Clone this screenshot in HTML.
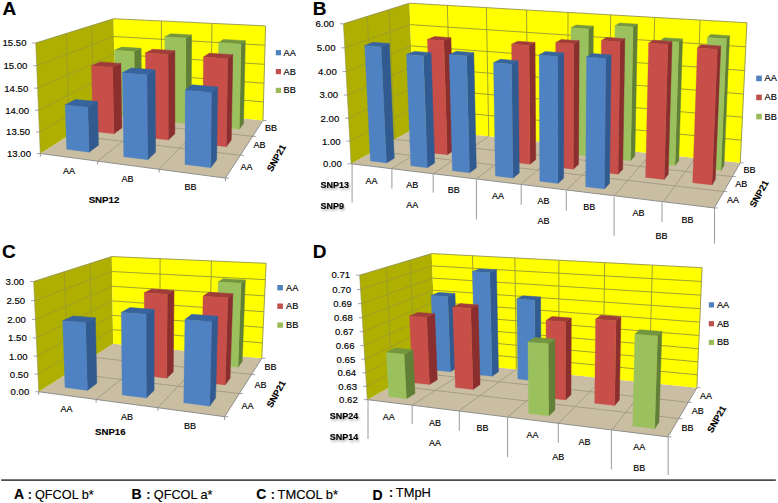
<!DOCTYPE html>
<html><head><meta charset="utf-8"><style>
html,body{margin:0;padding:0;background:#fff;}
svg{display:block;}
text{font-family:"Liberation Sans",sans-serif;fill:#000;stroke:#000;stroke-width:0.15px;}
</style></head><body>
<svg width="778" height="503" viewBox="0 0 778 503">
<defs><filter id="sh" x="-20%" y="-50%" width="140%" height="220%"><feGaussianBlur in="SourceAlpha" stdDeviation="1.0"/><feOffset dx="0.5" dy="1.8" result="b"/><feComponentTransfer><feFuncA type="linear" slope="0.3"/></feComponentTransfer><feMerge><feMergeNode/><feMergeNode in="SourceGraphic"/></feMerge></filter></defs>
<rect width="778" height="503" fill="#fff"/>
<polygon points="40.32,153.53 225.44,178.10 262.99,120.42 115.10,105.85" fill="#c9bea1" />
<polygon points="40.32,153.53 35.76,43.01 113.54,18.73 115.10,105.85" fill="#aeaf00" />
<polygon points="115.10,105.85 113.54,18.73 265.57,25.88 262.99,120.42" fill="#ffff00" />
<line x1="39.43" y1="132.02" x2="114.79" y2="88.78" stroke="#999933" stroke-width="0.8"/>
<line x1="114.79" y1="88.78" x2="263.49" y2="101.94" stroke="#999933" stroke-width="0.9"/>
<line x1="38.53" y1="110.21" x2="114.49" y2="71.54" stroke="#999933" stroke-width="0.8"/>
<line x1="114.49" y1="71.54" x2="264.00" y2="83.25" stroke="#999933" stroke-width="0.9"/>
<line x1="37.62" y1="88.11" x2="114.18" y2="54.12" stroke="#999933" stroke-width="0.8"/>
<line x1="114.18" y1="54.12" x2="264.52" y2="64.34" stroke="#999933" stroke-width="0.9"/>
<line x1="36.70" y1="65.71" x2="113.86" y2="36.52" stroke="#999933" stroke-width="0.8"/>
<line x1="113.86" y1="36.52" x2="265.04" y2="45.22" stroke="#999933" stroke-width="0.9"/>
<line x1="69.47" y1="134.94" x2="66.22" y2="33.50" stroke="#999933" stroke-width="0.8"/>
<line x1="69.47" y1="134.94" x2="240.30" y2="155.27" stroke="#9d9480" stroke-width="0.8"/>
<line x1="94.07" y1="119.26" x2="91.78" y2="25.52" stroke="#999933" stroke-width="0.8"/>
<line x1="94.07" y1="119.26" x2="252.61" y2="136.36" stroke="#9d9480" stroke-width="0.8"/>
<line x1="161.68" y1="110.44" x2="161.35" y2="20.97" stroke="#999933" stroke-width="0.9"/>
<line x1="97.64" y1="161.14" x2="161.68" y2="110.44" stroke="#9d9480" stroke-width="0.8"/>
<line x1="210.89" y1="115.29" x2="211.94" y2="23.35" stroke="#999933" stroke-width="0.9"/>
<line x1="159.19" y1="169.31" x2="210.89" y2="115.29" stroke="#9d9480" stroke-width="0.8"/>
<polyline points="35.76,43.01 113.54,18.73 265.57,25.88 262.99,120.42" fill="none" stroke="#94944a" stroke-width="0.9"/>
<polyline points="40.32,153.53 35.76,43.01" fill="none" stroke="#94944a" stroke-width="0.6"/>
<polygon points="134.91,118.28 134.12,51.60 141.07,48.34 141.70,113.27" fill="#617f36" stroke="#617f36" stroke-width="0.5" stroke-linejoin="round"/>
<polygon points="114.28,50.30 134.12,51.60 141.07,48.34 121.69,47.11" fill="#739540" stroke="#739540" stroke-width="0.5" stroke-linejoin="round"/>
<polygon points="115.45,116.24 134.91,118.28 134.12,51.60 114.28,50.30" fill="#9bc15f" stroke="#9bc15f" stroke-width="0.3" stroke-linejoin="round"/>
<polygon points="185.58,123.58 185.89,37.88 191.59,34.91 191.15,118.28" fill="#617f36" stroke="#617f36" stroke-width="0.5" stroke-linejoin="round"/>
<polygon points="164.73,36.70 185.89,37.88 191.59,34.91 170.96,33.79" fill="#739540" stroke="#739540" stroke-width="0.5" stroke-linejoin="round"/>
<polygon points="164.96,121.42 185.58,123.58 185.89,37.88 164.73,36.70" fill="#9bc15f" stroke="#9bc15f" stroke-width="0.3" stroke-linejoin="round"/>
<polygon points="239.35,129.21 241.06,43.89 245.30,40.65 243.53,123.59" fill="#617f36" stroke="#617f36" stroke-width="0.5" stroke-linejoin="round"/>
<polygon points="218.58,42.60 241.06,43.89 245.30,40.65 223.42,39.43" fill="#739540" stroke="#739540" stroke-width="0.5" stroke-linejoin="round"/>
<polygon points="217.45,126.92 239.35,129.21 241.06,43.89 218.58,42.60" fill="#9bc15f" stroke="#9bc15f" stroke-width="0.3" stroke-linejoin="round"/>
<polygon points="113.89,133.80 112.67,67.41 120.83,63.41 121.85,127.92" fill="#8a2e2e" stroke="#8a2e2e" stroke-width="0.5" stroke-linejoin="round"/>
<polygon points="91.44,65.80 112.67,67.41 120.83,63.41 100.13,61.89" fill="#a03d3b" stroke="#a03d3b" stroke-width="0.5" stroke-linejoin="round"/>
<polygon points="93.07,131.40 113.89,133.80 112.67,67.41 91.44,65.80" fill="#c84e4a" stroke="#c84e4a" stroke-width="0.3" stroke-linejoin="round"/>
<polygon points="168.29,140.07 168.14,54.40 174.88,50.66 174.85,133.81" fill="#8a2e2e" stroke="#8a2e2e" stroke-width="0.5" stroke-linejoin="round"/>
<polygon points="145.39,52.90 168.14,54.40 174.88,50.66 152.74,49.25" fill="#a03d3b" stroke="#a03d3b" stroke-width="0.5" stroke-linejoin="round"/>
<polygon points="146.11,137.51 168.29,140.07 168.14,54.40 145.39,52.90" fill="#c84e4a" stroke="#c84e4a" stroke-width="0.3" stroke-linejoin="round"/>
<polygon points="226.31,146.75 227.74,58.71 232.78,54.70 231.27,140.09" fill="#8a2e2e" stroke="#8a2e2e" stroke-width="0.5" stroke-linejoin="round"/>
<polygon points="203.42,57.10 227.74,58.71 232.78,54.70 209.17,53.20" fill="#a03d3b" stroke="#a03d3b" stroke-width="0.5" stroke-linejoin="round"/>
<polygon points="202.65,144.03 226.31,146.75 227.74,58.71 203.42,57.10" fill="#c84e4a" stroke="#c84e4a" stroke-width="0.3" stroke-linejoin="round"/>
<polygon points="88.99,152.18 87.81,107.19 97.45,101.56 98.46,145.19" fill="#305a90" stroke="#305a90" stroke-width="0.5" stroke-linejoin="round"/>
<polygon points="65.14,104.90 87.81,107.19 97.45,101.56 75.38,99.42" fill="#37639f" stroke="#37639f" stroke-width="0.5" stroke-linejoin="round"/>
<polygon points="66.61,149.32 88.99,152.18 87.81,107.19 65.14,104.90" fill="#4f82c3" stroke="#4f82c3" stroke-width="0.3" stroke-linejoin="round"/>
<polygon points="147.70,159.70 147.01,74.63 155.08,69.85 155.55,152.21" fill="#305a90" stroke="#305a90" stroke-width="0.5" stroke-linejoin="round"/>
<polygon points="122.42,72.70 147.01,74.63 155.08,69.85 131.21,68.05" fill="#37639f" stroke="#37639f" stroke-width="0.5" stroke-linejoin="round"/>
<polygon points="123.72,156.63 147.70,159.70 147.01,74.63 122.42,72.70" fill="#4f82c3" stroke="#4f82c3" stroke-width="0.3" stroke-linejoin="round"/>
<polygon points="210.71,167.76 211.57,92.46 217.64,86.90 216.67,159.74" fill="#305a90" stroke="#305a90" stroke-width="0.5" stroke-linejoin="round"/>
<polygon points="185.22,90.20 211.57,92.46 217.64,86.90 192.11,84.80" fill="#37639f" stroke="#37639f" stroke-width="0.5" stroke-linejoin="round"/>
<polygon points="184.96,164.47 210.71,167.76 211.57,92.46 185.22,90.20" fill="#4f82c3" stroke="#4f82c3" stroke-width="0.3" stroke-linejoin="round"/>
<line x1="36.82" y1="153.53" x2="40.32" y2="153.53" stroke="#8a8a9a" stroke-width="0.8"/>
<line x1="35.93" y1="132.02" x2="39.43" y2="132.02" stroke="#8a8a9a" stroke-width="0.8"/>
<line x1="35.03" y1="110.21" x2="38.53" y2="110.21" stroke="#8a8a9a" stroke-width="0.8"/>
<line x1="34.12" y1="88.11" x2="37.62" y2="88.11" stroke="#8a8a9a" stroke-width="0.8"/>
<line x1="33.20" y1="65.71" x2="36.70" y2="65.71" stroke="#8a8a9a" stroke-width="0.8"/>
<line x1="32.26" y1="43.01" x2="35.76" y2="43.01" stroke="#8a8a9a" stroke-width="0.8"/>
<line x1="225.44" y1="178.10" x2="228.94" y2="178.10" stroke="#8a8a8a" stroke-width="0.8"/>
<line x1="240.30" y1="155.27" x2="243.80" y2="155.27" stroke="#8a8a8a" stroke-width="0.8"/>
<line x1="252.61" y1="136.36" x2="256.11" y2="136.36" stroke="#8a8a8a" stroke-width="0.8"/>
<line x1="262.99" y1="120.42" x2="266.49" y2="120.42" stroke="#8a8a8a" stroke-width="0.8"/>
<line x1="40.32" y1="153.53" x2="40.32" y2="156.73" stroke="#8a8a8a" stroke-width="0.9"/>
<line x1="97.64" y1="161.14" x2="97.64" y2="164.34" stroke="#8a8a8a" stroke-width="0.9"/>
<line x1="159.19" y1="169.31" x2="159.19" y2="172.51" stroke="#8a8a8a" stroke-width="0.9"/>
<line x1="225.44" y1="178.10" x2="225.44" y2="181.30" stroke="#8a8a8a" stroke-width="0.9"/>
<line x1="40.32" y1="153.53" x2="225.44" y2="178.10" stroke="#8f8f8f" stroke-width="1.0"/>
<line x1="225.44" y1="178.10" x2="262.99" y2="120.42" stroke="#8f8f8f" stroke-width="1.0"/>
<text x="31.0" y="156.9" font-size="9.6" text-anchor="end" >13.00</text>
<text x="30.1" y="135.4" font-size="9.6" text-anchor="end" >13.50</text>
<text x="29.2" y="113.6" font-size="9.6" text-anchor="end" >14.00</text>
<text x="28.3" y="91.5" font-size="9.6" text-anchor="end" >14.50</text>
<text x="27.4" y="69.1" font-size="9.6" text-anchor="end" >15.00</text>
<text x="26.5" y="46.4" font-size="9.6" text-anchor="end" >15.50</text>
<polygon points="351.10,163.75 714.27,207.96 740.28,162.81 414.13,128.43" fill="#c9bea1" />
<polygon points="351.10,163.75 343.47,23.79 409.41,3.19 414.13,128.43" fill="#aeaf00" />
<polygon points="414.13,128.43 409.41,3.19 746.92,22.77 740.28,162.81" fill="#ffff00" />
<line x1="349.87" y1="141.12" x2="413.37" y2="108.11" stroke="#999933" stroke-width="0.8"/>
<line x1="413.37" y1="108.11" x2="741.36" y2="140.16" stroke="#999933" stroke-width="0.9"/>
<line x1="348.62" y1="118.21" x2="412.59" y2="87.57" stroke="#999933" stroke-width="0.8"/>
<line x1="412.59" y1="87.57" x2="742.44" y2="117.24" stroke="#999933" stroke-width="0.9"/>
<line x1="347.35" y1="95.03" x2="411.81" y2="66.81" stroke="#999933" stroke-width="0.8"/>
<line x1="411.81" y1="66.81" x2="743.54" y2="94.05" stroke="#999933" stroke-width="0.9"/>
<line x1="346.07" y1="71.57" x2="411.02" y2="45.83" stroke="#999933" stroke-width="0.8"/>
<line x1="411.02" y1="45.83" x2="744.65" y2="70.58" stroke="#999933" stroke-width="0.9"/>
<line x1="344.78" y1="47.82" x2="410.22" y2="24.62" stroke="#999933" stroke-width="0.8"/>
<line x1="410.22" y1="24.62" x2="745.78" y2="46.82" stroke="#999933" stroke-width="0.9"/>
<line x1="373.77" y1="151.05" x2="367.24" y2="16.36" stroke="#999933" stroke-width="0.8"/>
<line x1="373.77" y1="151.05" x2="723.72" y2="191.56" stroke="#9d9480" stroke-width="0.8"/>
<line x1="394.72" y1="139.31" x2="389.16" y2="9.51" stroke="#999933" stroke-width="0.8"/>
<line x1="394.72" y1="139.31" x2="732.35" y2="176.57" stroke="#9d9480" stroke-width="0.8"/>
<line x1="450.92" y1="132.31" x2="447.34" y2="5.39" stroke="#999933" stroke-width="0.9"/>
<line x1="391.51" y1="168.67" x2="450.92" y2="132.31" stroke="#9d9480" stroke-width="0.8"/>
<line x1="488.75" y1="136.30" x2="486.38" y2="7.65" stroke="#999933" stroke-width="0.9"/>
<line x1="433.20" y1="173.75" x2="488.75" y2="136.30" stroke="#9d9480" stroke-width="0.8"/>
<line x1="527.66" y1="140.40" x2="526.58" y2="9.98" stroke="#999933" stroke-width="0.9"/>
<line x1="476.25" y1="178.99" x2="527.66" y2="140.40" stroke="#9d9480" stroke-width="0.8"/>
<line x1="567.71" y1="144.62" x2="568.00" y2="12.39" stroke="#999933" stroke-width="0.9"/>
<line x1="520.72" y1="184.40" x2="567.71" y2="144.62" stroke="#9d9480" stroke-width="0.8"/>
<line x1="608.94" y1="148.97" x2="610.67" y2="14.86" stroke="#999933" stroke-width="0.9"/>
<line x1="566.67" y1="189.99" x2="608.94" y2="148.97" stroke="#9d9480" stroke-width="0.8"/>
<line x1="651.41" y1="153.44" x2="654.68" y2="17.41" stroke="#999933" stroke-width="0.9"/>
<line x1="614.19" y1="195.78" x2="651.41" y2="153.44" stroke="#9d9480" stroke-width="0.8"/>
<line x1="695.17" y1="158.06" x2="700.07" y2="20.05" stroke="#999933" stroke-width="0.9"/>
<line x1="663.36" y1="201.76" x2="695.17" y2="158.06" stroke="#9d9480" stroke-width="0.8"/>
<polyline points="343.47,23.79 409.41,3.19 746.92,22.77 740.28,162.81" fill="none" stroke="#94944a" stroke-width="0.9"/>
<polyline points="351.10,163.75 343.47,23.79" fill="none" stroke="#94944a" stroke-width="0.6"/>
<polygon points="587.46,156.00 588.39,28.91 593.35,26.15 592.28,151.52" fill="#617f36" stroke="#617f36" stroke-width="0.5" stroke-linejoin="round"/>
<polygon points="570.94,27.80 588.39,28.91 593.35,26.15 576.13,25.08" fill="#739540" stroke="#739540" stroke-width="0.5" stroke-linejoin="round"/>
<polygon points="570.57,154.17 587.46,156.00 588.39,28.91 570.94,27.80" fill="#9bc15f" stroke="#9bc15f" stroke-width="0.3" stroke-linejoin="round"/>
<polygon points="630.58,160.69 633.07,26.91 637.45,24.14 634.84,156.08" fill="#617f36" stroke="#617f36" stroke-width="0.5" stroke-linejoin="round"/>
<polygon points="615.04,25.80 633.07,26.91 637.45,24.14 619.66,23.06" fill="#739540" stroke="#739540" stroke-width="0.5" stroke-linejoin="round"/>
<polygon points="613.17,158.80 630.58,160.69 633.07,26.91 615.04,25.80" fill="#9bc15f" stroke="#9bc15f" stroke-width="0.3" stroke-linejoin="round"/>
<polygon points="675.04,165.53 678.79,42.02 682.53,38.99 678.72,160.77" fill="#617f36" stroke="#617f36" stroke-width="0.5" stroke-linejoin="round"/>
<polygon points="660.24,40.80 678.79,42.02 682.53,38.99 664.23,37.80" fill="#739540" stroke="#739540" stroke-width="0.5" stroke-linejoin="round"/>
<polygon points="657.09,163.57 675.04,165.53 678.79,42.02 660.24,40.80" fill="#9bc15f" stroke="#9bc15f" stroke-width="0.3" stroke-linejoin="round"/>
<polygon points="720.92,170.51 726.50,38.83 729.57,35.79 723.97,165.61" fill="#617f36" stroke="#617f36" stroke-width="0.5" stroke-linejoin="round"/>
<polygon points="707.31,37.60 726.50,38.83 729.57,35.79 710.65,34.60" fill="#739540" stroke="#739540" stroke-width="0.5" stroke-linejoin="round"/>
<polygon points="702.40,168.50 720.92,170.51 726.50,38.83 707.31,37.60" fill="#9bc15f" stroke="#9bc15f" stroke-width="0.3" stroke-linejoin="round"/>
<polygon points="447.20,154.78 443.85,40.57 450.88,37.67 453.98,150.34" fill="#8a2e2e" stroke="#8a2e2e" stroke-width="0.5" stroke-linejoin="round"/>
<polygon points="427.43,39.40 443.85,40.57 450.88,37.67 434.66,36.53" fill="#a03d3b" stroke="#a03d3b" stroke-width="0.5" stroke-linejoin="round"/>
<polygon points="431.23,152.96 447.20,154.78 443.85,40.57 427.43,39.40" fill="#c84e4a" stroke="#c84e4a" stroke-width="0.3" stroke-linejoin="round"/>
<polygon points="529.97,164.21 529.06,45.54 535.03,42.47 535.75,159.50" fill="#8a2e2e" stroke="#8a2e2e" stroke-width="0.5" stroke-linejoin="round"/>
<polygon points="511.58,44.30 529.06,45.54 535.03,42.47 517.77,41.27" fill="#a03d3b" stroke="#a03d3b" stroke-width="0.5" stroke-linejoin="round"/>
<polygon points="513.01,162.28 529.97,164.21 529.06,45.54 511.58,44.30" fill="#c84e4a" stroke="#c84e4a" stroke-width="0.3" stroke-linejoin="round"/>
<polygon points="573.31,169.15 573.77,43.85 579.16,40.76 578.54,164.29" fill="#8a2e2e" stroke="#8a2e2e" stroke-width="0.5" stroke-linejoin="round"/>
<polygon points="555.70,42.60 573.77,43.85 579.16,40.76 561.33,39.54" fill="#a03d3b" stroke="#a03d3b" stroke-width="0.5" stroke-linejoin="round"/>
<polygon points="555.81,167.16 573.31,169.15 573.77,43.85 555.70,42.60" fill="#c84e4a" stroke="#c84e4a" stroke-width="0.3" stroke-linejoin="round"/>
<polygon points="618.05,174.25 620.08,41.86 624.85,38.74 622.68,169.24" fill="#8a2e2e" stroke="#8a2e2e" stroke-width="0.5" stroke-linejoin="round"/>
<polygon points="601.38,40.60 620.08,41.86 624.85,38.74 606.40,37.52" fill="#a03d3b" stroke="#a03d3b" stroke-width="0.5" stroke-linejoin="round"/>
<polygon points="599.98,172.19 618.05,174.25 620.08,41.86 601.38,40.60" fill="#c84e4a" stroke="#c84e4a" stroke-width="0.3" stroke-linejoin="round"/>
<polygon points="664.23,179.51 667.95,44.60 672.03,41.39 668.23,174.34" fill="#8a2e2e" stroke="#8a2e2e" stroke-width="0.5" stroke-linejoin="round"/>
<polygon points="648.61,43.30 667.95,44.60 672.03,41.39 652.97,40.13" fill="#a03d3b" stroke="#a03d3b" stroke-width="0.5" stroke-linejoin="round"/>
<polygon points="645.58,177.39 664.23,179.51 667.95,44.60 648.61,43.30" fill="#c84e4a" stroke="#c84e4a" stroke-width="0.3" stroke-linejoin="round"/>
<polygon points="711.94,184.95 717.39,49.35 720.74,46.01 715.26,179.61" fill="#8a2e2e" stroke="#8a2e2e" stroke-width="0.5" stroke-linejoin="round"/>
<polygon points="697.40,48.00 717.39,49.35 720.74,46.01 701.04,44.70" fill="#a03d3b" stroke="#a03d3b" stroke-width="0.5" stroke-linejoin="round"/>
<polygon points="692.67,182.76 711.94,184.95 717.39,49.35 697.40,48.00" fill="#c84e4a" stroke="#c84e4a" stroke-width="0.3" stroke-linejoin="round"/>
<polygon points="386.42,162.91 381.15,46.64 389.31,43.57 394.26,158.24" fill="#305a90" stroke="#305a90" stroke-width="0.5" stroke-linejoin="round"/>
<polygon points="364.71,45.40 381.15,46.64 389.31,43.57 373.05,42.37" fill="#37639f" stroke="#37639f" stroke-width="0.5" stroke-linejoin="round"/>
<polygon points="370.42,161.00 386.42,162.91 381.15,46.64 364.71,45.40" fill="#4f82c3" stroke="#4f82c3" stroke-width="0.3" stroke-linejoin="round"/>
<polygon points="427.28,167.81 423.41,55.92 431.04,52.67 434.64,162.99" fill="#305a90" stroke="#305a90" stroke-width="0.5" stroke-linejoin="round"/>
<polygon points="406.45,54.60 423.41,55.92 431.04,52.67 414.29,51.39" fill="#37639f" stroke="#37639f" stroke-width="0.5" stroke-linejoin="round"/>
<polygon points="410.78,165.83 427.28,167.81 423.41,55.92 406.45,54.60" fill="#4f82c3" stroke="#4f82c3" stroke-width="0.3" stroke-linejoin="round"/>
<polygon points="469.45,172.86 466.69,55.94 473.78,52.63 476.29,167.89" fill="#305a90" stroke="#305a90" stroke-width="0.5" stroke-linejoin="round"/>
<polygon points="449.16,54.60 466.69,55.94 473.78,52.63 456.47,51.33" fill="#37639f" stroke="#37639f" stroke-width="0.5" stroke-linejoin="round"/>
<polygon points="452.42,170.82 469.45,172.86 466.69,55.94 449.16,54.60" fill="#4f82c3" stroke="#4f82c3" stroke-width="0.3" stroke-linejoin="round"/>
<polygon points="512.98,178.07 511.59,64.21 518.08,60.73 519.26,172.94" fill="#305a90" stroke="#305a90" stroke-width="0.5" stroke-linejoin="round"/>
<polygon points="493.49,62.80 511.59,64.21 518.08,60.73 500.23,59.36" fill="#37639f" stroke="#37639f" stroke-width="0.5" stroke-linejoin="round"/>
<polygon points="495.40,175.96 512.98,178.07 511.59,64.21 493.49,62.80" fill="#4f82c3" stroke="#4f82c3" stroke-width="0.3" stroke-linejoin="round"/>
<polygon points="557.93,183.45 557.89,56.39 563.76,52.96 563.62,178.16" fill="#305a90" stroke="#305a90" stroke-width="0.5" stroke-linejoin="round"/>
<polygon points="539.12,55.00 557.89,56.39 563.76,52.96 545.26,51.61" fill="#37639f" stroke="#37639f" stroke-width="0.5" stroke-linejoin="round"/>
<polygon points="539.78,181.28 557.93,183.45 557.89,56.39 539.12,55.00" fill="#4f82c3" stroke="#4f82c3" stroke-width="0.3" stroke-linejoin="round"/>
<polygon points="604.40,189.01 605.95,58.43 611.14,54.91 609.45,183.55" fill="#305a90" stroke="#305a90" stroke-width="0.5" stroke-linejoin="round"/>
<polygon points="586.52,57.00 605.95,58.43 611.14,54.91 592.00,53.52" fill="#37639f" stroke="#37639f" stroke-width="0.5" stroke-linejoin="round"/>
<polygon points="585.63,186.77 604.40,189.01 605.95,58.43 586.52,57.00" fill="#4f82c3" stroke="#4f82c3" stroke-width="0.3" stroke-linejoin="round"/>
<line x1="347.60" y1="163.75" x2="351.10" y2="163.75" stroke="#8a8a9a" stroke-width="0.8"/>
<line x1="346.37" y1="141.12" x2="349.87" y2="141.12" stroke="#8a8a9a" stroke-width="0.8"/>
<line x1="345.12" y1="118.21" x2="348.62" y2="118.21" stroke="#8a8a9a" stroke-width="0.8"/>
<line x1="343.85" y1="95.03" x2="347.35" y2="95.03" stroke="#8a8a9a" stroke-width="0.8"/>
<line x1="342.57" y1="71.57" x2="346.07" y2="71.57" stroke="#8a8a9a" stroke-width="0.8"/>
<line x1="341.28" y1="47.82" x2="344.78" y2="47.82" stroke="#8a8a9a" stroke-width="0.8"/>
<line x1="339.97" y1="23.79" x2="343.47" y2="23.79" stroke="#8a8a9a" stroke-width="0.8"/>
<line x1="714.27" y1="207.96" x2="717.77" y2="207.96" stroke="#8a8a8a" stroke-width="0.8"/>
<line x1="723.72" y1="191.56" x2="727.22" y2="191.56" stroke="#8a8a8a" stroke-width="0.8"/>
<line x1="732.35" y1="176.57" x2="735.85" y2="176.57" stroke="#8a8a8a" stroke-width="0.8"/>
<line x1="740.28" y1="162.81" x2="743.78" y2="162.81" stroke="#8a8a8a" stroke-width="0.8"/>
<line x1="351.10" y1="163.75" x2="714.27" y2="207.96" stroke="#8f8f8f" stroke-width="1.0"/>
<line x1="714.27" y1="207.96" x2="740.28" y2="162.81" stroke="#8f8f8f" stroke-width="1.0"/>
<text x="341.8" y="167.2" font-size="9.6" text-anchor="end" >0.00</text>
<text x="340.6" y="144.5" font-size="9.6" text-anchor="end" >1.00</text>
<text x="339.3" y="121.6" font-size="9.6" text-anchor="end" >2.00</text>
<text x="338.1" y="98.4" font-size="9.6" text-anchor="end" >3.00</text>
<text x="336.8" y="75.0" font-size="9.6" text-anchor="end" >4.00</text>
<text x="335.5" y="51.2" font-size="9.6" text-anchor="end" >5.00</text>
<text x="334.2" y="27.2" font-size="9.6" text-anchor="end" >6.00</text>
<polygon points="38.81,391.75 224.64,416.66 261.77,358.31 113.11,343.75" fill="#c9bea1" />
<polygon points="38.81,391.75 33.68,281.51 111.79,256.57 113.11,343.75" fill="#aeaf00" />
<polygon points="113.11,343.75 111.79,256.57 266.14,263.31 261.77,358.31" fill="#ffff00" />
<line x1="37.98" y1="374.06" x2="112.90" y2="329.64" stroke="#999933" stroke-width="0.8"/>
<line x1="112.90" y1="329.64" x2="262.47" y2="342.98" stroke="#999933" stroke-width="0.9"/>
<line x1="37.15" y1="356.10" x2="112.68" y2="315.36" stroke="#999933" stroke-width="0.8"/>
<line x1="112.68" y1="315.36" x2="263.19" y2="327.45" stroke="#999933" stroke-width="0.9"/>
<line x1="36.30" y1="337.87" x2="112.46" y2="300.92" stroke="#999933" stroke-width="0.8"/>
<line x1="112.46" y1="300.92" x2="263.91" y2="311.72" stroke="#999933" stroke-width="0.9"/>
<line x1="35.44" y1="319.37" x2="112.24" y2="286.31" stroke="#999933" stroke-width="0.8"/>
<line x1="112.24" y1="286.31" x2="264.64" y2="295.79" stroke="#999933" stroke-width="0.9"/>
<line x1="34.57" y1="300.58" x2="112.02" y2="271.53" stroke="#999933" stroke-width="0.8"/>
<line x1="112.02" y1="271.53" x2="265.39" y2="279.66" stroke="#999933" stroke-width="0.9"/>
<line x1="67.76" y1="373.05" x2="64.31" y2="271.73" stroke="#999933" stroke-width="0.8"/>
<line x1="67.76" y1="373.05" x2="239.34" y2="393.56" stroke="#9d9480" stroke-width="0.8"/>
<line x1="92.21" y1="357.26" x2="89.97" y2="263.54" stroke="#999933" stroke-width="0.8"/>
<line x1="92.21" y1="357.26" x2="251.51" y2="374.42" stroke="#9d9480" stroke-width="0.8"/>
<line x1="159.78" y1="348.32" x2="160.14" y2="258.68" stroke="#999933" stroke-width="0.9"/>
<line x1="96.12" y1="399.43" x2="159.78" y2="348.32" stroke="#9d9480" stroke-width="0.8"/>
<line x1="209.25" y1="353.17" x2="211.49" y2="260.92" stroke="#999933" stroke-width="0.9"/>
<line x1="157.88" y1="407.71" x2="209.25" y2="353.17" stroke="#9d9480" stroke-width="0.8"/>
<polyline points="33.68,281.51 111.79,256.57 266.14,263.31 261.77,358.31" fill="none" stroke="#94944a" stroke-width="0.9"/>
<polyline points="38.81,391.75 33.68,281.51" fill="none" stroke="#94944a" stroke-width="0.6"/>
<polygon points="238.05,367.21 241.10,283.28 245.29,279.91 242.19,361.52" fill="#617f36" stroke="#617f36" stroke-width="0.5" stroke-linejoin="round"/>
<polygon points="218.23,282.00 241.10,283.28 245.29,279.91 223.04,278.71" fill="#739540" stroke="#739540" stroke-width="0.5" stroke-linejoin="round"/>
<polygon points="215.98,364.90 238.05,367.21 241.10,283.28 218.23,282.00" fill="#9bc15f" stroke="#9bc15f" stroke-width="0.3" stroke-linejoin="round"/>
<polygon points="166.72,378.19 167.30,294.30 174.02,290.41 173.24,371.88" fill="#8a2e2e" stroke="#8a2e2e" stroke-width="0.5" stroke-linejoin="round"/>
<polygon points="144.25,292.80 167.30,294.30 174.02,290.41 151.60,289.01" fill="#a03d3b" stroke="#a03d3b" stroke-width="0.5" stroke-linejoin="round"/>
<polygon points="144.45,375.62 166.72,378.19 167.30,294.30 144.25,292.80" fill="#c84e4a" stroke="#c84e4a" stroke-width="0.3" stroke-linejoin="round"/>
<polygon points="225.14,384.94 227.86,297.80 232.85,293.66 230.05,378.20" fill="#8a2e2e" stroke="#8a2e2e" stroke-width="0.5" stroke-linejoin="round"/>
<polygon points="203.11,296.20 227.86,297.80 232.85,293.66 208.83,292.17" fill="#a03d3b" stroke="#a03d3b" stroke-width="0.5" stroke-linejoin="round"/>
<polygon points="201.28,382.18 225.14,384.94 227.86,297.80 203.11,296.20" fill="#c84e4a" stroke="#c84e4a" stroke-width="0.3" stroke-linejoin="round"/>
<polygon points="87.39,390.40 85.62,322.78 95.35,317.77 96.81,383.36" fill="#305a90" stroke="#305a90" stroke-width="0.5" stroke-linejoin="round"/>
<polygon points="62.64,320.80 85.62,322.78 95.35,317.77 72.99,315.92" fill="#37639f" stroke="#37639f" stroke-width="0.5" stroke-linejoin="round"/>
<polygon points="65.01,387.51 87.39,390.40 85.62,322.78 62.64,320.80" fill="#4f82c3" stroke="#4f82c3" stroke-width="0.3" stroke-linejoin="round"/>
<polygon points="146.25,398.00 146.12,314.34 154.19,309.41 154.05,390.45" fill="#305a90" stroke="#305a90" stroke-width="0.5" stroke-linejoin="round"/>
<polygon points="121.22,312.40 146.12,314.34 154.19,309.41 130.02,307.60" fill="#37639f" stroke="#37639f" stroke-width="0.5" stroke-linejoin="round"/>
<polygon points="122.19,394.89 146.25,398.00 146.12,314.34 121.22,312.40" fill="#4f82c3" stroke="#4f82c3" stroke-width="0.3" stroke-linejoin="round"/>
<polygon points="209.67,406.18 211.78,321.73 217.82,316.35 215.58,398.07" fill="#305a90" stroke="#305a90" stroke-width="0.5" stroke-linejoin="round"/>
<polygon points="184.90,319.60 211.78,321.73 217.82,316.35 191.78,314.37" fill="#37639f" stroke="#37639f" stroke-width="0.5" stroke-linejoin="round"/>
<polygon points="183.72,402.83 209.67,406.18 211.78,321.73 184.90,319.60" fill="#4f82c3" stroke="#4f82c3" stroke-width="0.3" stroke-linejoin="round"/>
<line x1="35.31" y1="391.75" x2="38.81" y2="391.75" stroke="#8a8a9a" stroke-width="0.8"/>
<line x1="34.48" y1="374.06" x2="37.98" y2="374.06" stroke="#8a8a9a" stroke-width="0.8"/>
<line x1="33.65" y1="356.10" x2="37.15" y2="356.10" stroke="#8a8a9a" stroke-width="0.8"/>
<line x1="32.80" y1="337.87" x2="36.30" y2="337.87" stroke="#8a8a9a" stroke-width="0.8"/>
<line x1="31.94" y1="319.37" x2="35.44" y2="319.37" stroke="#8a8a9a" stroke-width="0.8"/>
<line x1="31.07" y1="300.58" x2="34.57" y2="300.58" stroke="#8a8a9a" stroke-width="0.8"/>
<line x1="30.18" y1="281.51" x2="33.68" y2="281.51" stroke="#8a8a9a" stroke-width="0.8"/>
<line x1="224.64" y1="416.66" x2="228.14" y2="416.66" stroke="#8a8a8a" stroke-width="0.8"/>
<line x1="239.34" y1="393.56" x2="242.84" y2="393.56" stroke="#8a8a8a" stroke-width="0.8"/>
<line x1="251.51" y1="374.42" x2="255.01" y2="374.42" stroke="#8a8a8a" stroke-width="0.8"/>
<line x1="261.77" y1="358.31" x2="265.27" y2="358.31" stroke="#8a8a8a" stroke-width="0.8"/>
<line x1="38.81" y1="391.75" x2="38.81" y2="394.95" stroke="#8a8a8a" stroke-width="0.9"/>
<line x1="96.12" y1="399.43" x2="96.12" y2="402.63" stroke="#8a8a8a" stroke-width="0.9"/>
<line x1="157.88" y1="407.71" x2="157.88" y2="410.91" stroke="#8a8a8a" stroke-width="0.9"/>
<line x1="224.64" y1="416.66" x2="224.64" y2="419.86" stroke="#8a8a8a" stroke-width="0.9"/>
<line x1="38.81" y1="391.75" x2="224.64" y2="416.66" stroke="#8f8f8f" stroke-width="1.0"/>
<line x1="224.64" y1="416.66" x2="261.77" y2="358.31" stroke="#8f8f8f" stroke-width="1.0"/>
<text x="29.3" y="395.2" font-size="9.6" text-anchor="end" >0.00</text>
<text x="28.5" y="377.5" font-size="9.6" text-anchor="end" >0.50</text>
<text x="27.6" y="359.5" font-size="9.6" text-anchor="end" >1.00</text>
<text x="26.8" y="341.3" font-size="9.6" text-anchor="end" >1.50</text>
<text x="25.9" y="322.8" font-size="9.6" text-anchor="end" >2.00</text>
<text x="25.1" y="304.0" font-size="9.6" text-anchor="end" >2.50</text>
<text x="24.2" y="284.9" font-size="9.6" text-anchor="end" >3.00</text>
<polygon points="367.33,399.65 667.86,436.89 696.87,387.74 435.90,361.11" fill="#c9bea1" />
<polygon points="367.33,399.65 359.67,275.14 431.68,253.59 435.90,361.11" fill="#aeaf00" />
<polygon points="435.90,361.11 431.68,253.59 702.08,267.69 696.87,387.74" fill="#ffff00" />
<line x1="366.51" y1="386.29" x2="435.44" y2="349.52" stroke="#999933" stroke-width="0.8"/>
<line x1="435.44" y1="349.52" x2="697.43" y2="374.84" stroke="#999933" stroke-width="0.9"/>
<line x1="365.68" y1="372.81" x2="434.98" y2="337.83" stroke="#999933" stroke-width="0.8"/>
<line x1="434.98" y1="337.83" x2="697.99" y2="361.84" stroke="#999933" stroke-width="0.9"/>
<line x1="364.84" y1="359.22" x2="434.52" y2="326.06" stroke="#999933" stroke-width="0.8"/>
<line x1="434.52" y1="326.06" x2="698.56" y2="348.72" stroke="#999933" stroke-width="0.9"/>
<line x1="364.00" y1="345.51" x2="434.06" y2="314.21" stroke="#999933" stroke-width="0.8"/>
<line x1="434.06" y1="314.21" x2="699.14" y2="335.49" stroke="#999933" stroke-width="0.9"/>
<line x1="363.15" y1="331.68" x2="433.59" y2="302.26" stroke="#999933" stroke-width="0.8"/>
<line x1="433.59" y1="302.26" x2="699.72" y2="322.16" stroke="#999933" stroke-width="0.9"/>
<line x1="362.29" y1="317.73" x2="433.12" y2="290.23" stroke="#999933" stroke-width="0.8"/>
<line x1="433.12" y1="290.23" x2="700.30" y2="308.71" stroke="#999933" stroke-width="0.9"/>
<line x1="361.42" y1="303.66" x2="432.64" y2="278.11" stroke="#999933" stroke-width="0.8"/>
<line x1="432.64" y1="278.11" x2="700.89" y2="295.15" stroke="#999933" stroke-width="0.9"/>
<line x1="360.55" y1="289.46" x2="432.16" y2="265.90" stroke="#999933" stroke-width="0.8"/>
<line x1="432.16" y1="265.90" x2="701.48" y2="281.48" stroke="#999933" stroke-width="0.9"/>
<line x1="392.58" y1="385.46" x2="386.28" y2="267.18" stroke="#999933" stroke-width="0.8"/>
<line x1="392.58" y1="385.46" x2="678.68" y2="418.56" stroke="#9d9480" stroke-width="0.8"/>
<line x1="415.31" y1="372.68" x2="410.15" y2="260.03" stroke="#999933" stroke-width="0.8"/>
<line x1="415.31" y1="372.68" x2="688.28" y2="402.29" stroke="#9d9480" stroke-width="0.8"/>
<line x1="475.40" y1="365.14" x2="472.47" y2="255.72" stroke="#999933" stroke-width="0.9"/>
<line x1="412.04" y1="405.19" x2="475.40" y2="365.14" stroke="#9d9480" stroke-width="0.8"/>
<line x1="516.38" y1="369.33" x2="514.83" y2="257.93" stroke="#999933" stroke-width="0.9"/>
<line x1="458.72" y1="410.97" x2="516.38" y2="369.33" stroke="#9d9480" stroke-width="0.8"/>
<line x1="558.92" y1="373.67" x2="558.87" y2="260.22" stroke="#999933" stroke-width="0.9"/>
<line x1="507.48" y1="417.02" x2="558.92" y2="373.67" stroke="#9d9480" stroke-width="0.8"/>
<line x1="603.11" y1="378.18" x2="604.68" y2="262.61" stroke="#999933" stroke-width="0.9"/>
<line x1="558.49" y1="423.34" x2="603.11" y2="378.18" stroke="#9d9480" stroke-width="0.8"/>
<line x1="649.06" y1="382.87" x2="652.38" y2="265.10" stroke="#999933" stroke-width="0.9"/>
<line x1="611.89" y1="429.96" x2="649.06" y2="382.87" stroke="#9d9480" stroke-width="0.8"/>
<polyline points="359.67,275.14 431.68,253.59 702.08,267.69 696.87,387.74" fill="none" stroke="#94944a" stroke-width="0.9"/>
<polyline points="367.33,399.65 359.67,275.14" fill="none" stroke="#94944a" stroke-width="0.6"/>
<polygon points="450.36,371.86 447.75,296.59 454.96,293.57 457.37,367.59" fill="#305a90" stroke="#305a90" stroke-width="0.5" stroke-linejoin="round"/>
<polygon points="431.15,295.40 447.75,296.59 454.96,293.57 438.61,292.43" fill="#37639f" stroke="#37639f" stroke-width="0.5" stroke-linejoin="round"/>
<polygon points="434.13,370.13 450.36,371.86 447.75,296.59 431.15,295.40" fill="#4f82c3" stroke="#4f82c3" stroke-width="0.3" stroke-linejoin="round"/>
<polygon points="492.03,376.29 489.79,272.53 496.43,269.87 498.43,371.86" fill="#305a90" stroke="#305a90" stroke-width="0.5" stroke-linejoin="round"/>
<polygon points="472.40,271.50 489.79,272.53 496.43,269.87 479.31,268.88" fill="#37639f" stroke="#37639f" stroke-width="0.5" stroke-linejoin="round"/>
<polygon points="475.17,374.50 492.03,376.29 489.79,272.53 472.40,271.50" fill="#4f82c3" stroke="#4f82c3" stroke-width="0.3" stroke-linejoin="round"/>
<polygon points="535.34,380.89 534.70,300.17 540.58,296.96 541.07,376.30" fill="#305a90" stroke="#305a90" stroke-width="0.5" stroke-linejoin="round"/>
<polygon points="516.73,298.90 534.70,300.17 540.58,296.96 522.90,295.74" fill="#37639f" stroke="#37639f" stroke-width="0.5" stroke-linejoin="round"/>
<polygon points="517.81,379.03 535.34,380.89 534.70,300.17 516.73,298.90" fill="#4f82c3" stroke="#4f82c3" stroke-width="0.3" stroke-linejoin="round"/>
<polygon points="429.52,384.56 426.73,317.31 434.69,313.76 437.27,379.84" fill="#8a2e2e" stroke="#8a2e2e" stroke-width="0.5" stroke-linejoin="round"/>
<polygon points="409.49,315.90 426.73,317.31 434.69,313.76 417.71,312.40" fill="#a03d3b" stroke="#a03d3b" stroke-width="0.5" stroke-linejoin="round"/>
<polygon points="412.61,382.64 429.52,384.56 426.73,317.31 409.49,315.90" fill="#c84e4a" stroke="#c84e4a" stroke-width="0.3" stroke-linejoin="round"/>
<polygon points="472.98,389.48 470.73,308.38 478.04,304.91 480.07,384.58" fill="#8a2e2e" stroke="#8a2e2e" stroke-width="0.5" stroke-linejoin="round"/>
<polygon points="452.70,307.00 470.73,308.38 478.04,304.91 460.30,303.59" fill="#a03d3b" stroke="#a03d3b" stroke-width="0.5" stroke-linejoin="round"/>
<polygon points="455.39,387.49 472.98,389.48 470.73,308.38 452.70,307.00" fill="#c84e4a" stroke="#c84e4a" stroke-width="0.3" stroke-linejoin="round"/>
<polygon points="565.42,399.96 565.55,321.95 571.25,318.07 570.99,394.64" fill="#8a2e2e" stroke="#8a2e2e" stroke-width="0.5" stroke-linejoin="round"/>
<polygon points="545.97,320.40 565.55,321.95 571.25,318.07 552.01,316.58" fill="#a03d3b" stroke="#a03d3b" stroke-width="0.5" stroke-linejoin="round"/>
<polygon points="546.31,397.79 565.42,399.96 565.55,321.95 545.97,320.40" fill="#c84e4a" stroke="#c84e4a" stroke-width="0.3" stroke-linejoin="round"/>
<polygon points="614.63,405.53 616.11,320.77 620.90,316.83 619.34,399.99" fill="#8a2e2e" stroke="#8a2e2e" stroke-width="0.5" stroke-linejoin="round"/>
<polygon points="595.62,319.20 616.11,320.77 620.90,316.83 600.79,315.32" fill="#a03d3b" stroke="#a03d3b" stroke-width="0.5" stroke-linejoin="round"/>
<polygon points="594.69,403.27 614.63,405.53 616.11,320.77 595.62,319.20" fill="#c84e4a" stroke="#c84e4a" stroke-width="0.3" stroke-linejoin="round"/>
<polygon points="406.38,398.66 404.20,354.19 412.98,349.74 415.00,393.41" fill="#617f36" stroke="#617f36" stroke-width="0.5" stroke-linejoin="round"/>
<polygon points="386.33,352.40 404.20,354.19 412.98,349.74 395.39,348.02" fill="#739540" stroke="#739540" stroke-width="0.5" stroke-linejoin="round"/>
<polygon points="388.75,396.52 406.38,398.66 404.20,354.19 386.33,352.40" fill="#9bc15f" stroke="#9bc15f" stroke-width="0.3" stroke-linejoin="round"/>
<polygon points="548.71,415.91 548.44,343.73 554.83,339.17 554.95,409.95" fill="#617f36" stroke="#617f36" stroke-width="0.5" stroke-linejoin="round"/>
<polygon points="527.91,341.90 548.44,343.73 554.83,339.17 534.67,337.42" fill="#739540" stroke="#739540" stroke-width="0.5" stroke-linejoin="round"/>
<polygon points="528.64,413.47 548.71,415.91 548.44,343.73 527.91,341.90" fill="#9bc15f" stroke="#9bc15f" stroke-width="0.3" stroke-linejoin="round"/>
<polygon points="654.71,428.75 657.53,336.06 661.82,331.43 658.94,422.24" fill="#617f36" stroke="#617f36" stroke-width="0.5" stroke-linejoin="round"/>
<polygon points="634.86,334.20 657.53,336.06 661.82,331.43 639.61,329.66" fill="#739540" stroke="#739540" stroke-width="0.5" stroke-linejoin="round"/>
<polygon points="632.72,426.08 654.71,428.75 657.53,336.06 634.86,334.20" fill="#9bc15f" stroke="#9bc15f" stroke-width="0.3" stroke-linejoin="round"/>
<line x1="363.83" y1="399.65" x2="367.33" y2="399.65" stroke="#8a8a9a" stroke-width="0.8"/>
<line x1="363.01" y1="386.29" x2="366.51" y2="386.29" stroke="#8a8a9a" stroke-width="0.8"/>
<line x1="362.18" y1="372.81" x2="365.68" y2="372.81" stroke="#8a8a9a" stroke-width="0.8"/>
<line x1="361.34" y1="359.22" x2="364.84" y2="359.22" stroke="#8a8a9a" stroke-width="0.8"/>
<line x1="360.50" y1="345.51" x2="364.00" y2="345.51" stroke="#8a8a9a" stroke-width="0.8"/>
<line x1="359.65" y1="331.68" x2="363.15" y2="331.68" stroke="#8a8a9a" stroke-width="0.8"/>
<line x1="358.79" y1="317.73" x2="362.29" y2="317.73" stroke="#8a8a9a" stroke-width="0.8"/>
<line x1="357.92" y1="303.66" x2="361.42" y2="303.66" stroke="#8a8a9a" stroke-width="0.8"/>
<line x1="357.05" y1="289.46" x2="360.55" y2="289.46" stroke="#8a8a9a" stroke-width="0.8"/>
<line x1="356.17" y1="275.14" x2="359.67" y2="275.14" stroke="#8a8a9a" stroke-width="0.8"/>
<line x1="667.86" y1="436.89" x2="671.36" y2="436.89" stroke="#8a8a8a" stroke-width="0.8"/>
<line x1="678.68" y1="418.56" x2="682.18" y2="418.56" stroke="#8a8a8a" stroke-width="0.8"/>
<line x1="688.28" y1="402.29" x2="691.78" y2="402.29" stroke="#8a8a8a" stroke-width="0.8"/>
<line x1="696.87" y1="387.74" x2="700.37" y2="387.74" stroke="#8a8a8a" stroke-width="0.8"/>
<line x1="367.33" y1="399.65" x2="667.86" y2="436.89" stroke="#8f8f8f" stroke-width="1.0"/>
<line x1="667.86" y1="436.89" x2="696.87" y2="387.74" stroke="#8f8f8f" stroke-width="1.0"/>
<text x="357.8" y="403.0" font-size="9.6" text-anchor="end" >0.62</text>
<text x="357.0" y="389.6" font-size="9.6" text-anchor="end" >0.63</text>
<text x="356.2" y="376.1" font-size="9.6" text-anchor="end" >0.64</text>
<text x="355.3" y="362.5" font-size="9.6" text-anchor="end" >0.65</text>
<text x="354.5" y="348.8" font-size="9.6" text-anchor="end" >0.66</text>
<text x="353.6" y="335.0" font-size="9.6" text-anchor="end" >0.67</text>
<text x="352.8" y="321.0" font-size="9.6" text-anchor="end" >0.68</text>
<text x="351.9" y="307.0" font-size="9.6" text-anchor="end" >0.69</text>
<text x="351.0" y="292.8" font-size="9.6" text-anchor="end" >0.70</text>
<text x="350.2" y="278.4" font-size="9.6" text-anchor="end" >0.71</text>
<text x="2.5" y="14.9" font-size="19" text-anchor="start" font-weight="bold" >A</text>
<text x="312.8" y="15.0" font-size="19" text-anchor="start" font-weight="bold" >B</text>
<text x="2.1" y="258.1" font-size="19" text-anchor="start" font-weight="bold" >C</text>
<text x="312.8" y="258.4" font-size="19" text-anchor="start" font-weight="bold" >D</text>
<text x="69.0" y="174.3" font-size="9" text-anchor="middle" >AA</text>
<text x="127.4" y="181.9" font-size="9" text-anchor="middle" >AB</text>
<text x="190.5" y="190.2" font-size="9" text-anchor="middle" >BB</text>
<text x="104.0" y="202.5" font-size="9.7" text-anchor="middle" font-weight="bold" >SNP12</text>
<text x="271.0" y="131.3" font-size="9" text-anchor="middle" >BB</text>
<text x="259.6" y="148.3" font-size="9" text-anchor="middle" >AB</text>
<text x="246.6" y="169.8" font-size="9" text-anchor="middle" >AA</text>
<text transform="translate(276.2,158) rotate(-61)" font-size="9.2" font-weight="bold" text-anchor="middle" y="3.3">SNP21</text>
<rect x="275.8" y="50.1" width="5.2" height="5.2" fill="#4f81bd"/>
<text x="283.6" y="55.7" font-size="9.2" text-anchor="start" >AA</text>
<rect x="275.8" y="69.0" width="5.2" height="5.2" fill="#c0504d"/>
<text x="283.6" y="74.6" font-size="9.2" text-anchor="start" >AB</text>
<rect x="275.8" y="87.8" width="5.2" height="5.2" fill="#9bbb59"/>
<text x="283.6" y="93.4" font-size="9.2" text-anchor="start" >BB</text>
<text x="371.6" y="183.5" font-size="9" text-anchor="middle" >AA</text>
<text x="412.3" y="188.1" font-size="9" text-anchor="middle" >AB</text>
<text x="453.8" y="193.4" font-size="9" text-anchor="middle" >BB</text>
<text x="498.0" y="199.0" font-size="9" text-anchor="middle" >AA</text>
<text x="543.4" y="204.4" font-size="9" text-anchor="middle" >AB</text>
<text x="589.2" y="209.8" font-size="9" text-anchor="middle" >BB</text>
<text x="638.6" y="216.1" font-size="9" text-anchor="middle" >AB</text>
<text x="687.4" y="222.6" font-size="9" text-anchor="middle" >BB</text>
<text x="412.3" y="208.4" font-size="9" text-anchor="middle" >AA</text>
<text x="543.4" y="224.4" font-size="9" text-anchor="middle" >AB</text>
<text x="661.6" y="239.0" font-size="9" text-anchor="middle" >BB</text>
<g filter="url(#sh)">
<text x="320.4" y="188.1" font-size="9.0" text-anchor="start" font-weight="bold" >SNP13</text>
<text x="320.4" y="208.8" font-size="9.0" text-anchor="start" font-weight="bold" >SNP9</text>
</g>
<text x="749.6" y="172.9" font-size="9" text-anchor="middle" >BB</text>
<text x="741.2" y="187.2" font-size="9" text-anchor="middle" >AB</text>
<text x="733.0" y="203.4" font-size="9" text-anchor="middle" >AA</text>
<text transform="translate(759,193.7) rotate(-61)" font-size="9.2" font-weight="bold" text-anchor="middle" y="3.3">SNP21</text>
<rect x="756.2" y="75.6" width="5.6" height="5.6" fill="#4f81bd"/>
<text x="764.6" y="81.4" font-size="9.2" text-anchor="start" >AA</text>
<rect x="756.2" y="94.6" width="5.6" height="5.6" fill="#c0504d"/>
<text x="764.6" y="100.4" font-size="9.2" text-anchor="start" >AB</text>
<rect x="756.2" y="113.8" width="5.6" height="5.6" fill="#9bbb59"/>
<text x="764.6" y="119.6" font-size="9.2" text-anchor="start" >BB</text>
<line x1="352.1" y1="162.8" x2="352.1" y2="202.5" stroke="#8e8e8e" stroke-width="0.9"/>
<line x1="391.9" y1="168.7" x2="391.9" y2="188.6" stroke="#8e8e8e" stroke-width="0.9"/>
<line x1="433.2" y1="173.7" x2="433.2" y2="192.6" stroke="#8e8e8e" stroke-width="0.9"/>
<line x1="476.4" y1="180" x2="476.4" y2="219.6" stroke="#8e8e8e" stroke-width="0.9"/>
<line x1="521.2" y1="185.3" x2="521.2" y2="204.8" stroke="#8e8e8e" stroke-width="0.9"/>
<line x1="566.3" y1="190.7" x2="566.3" y2="210.7" stroke="#8e8e8e" stroke-width="0.9"/>
<line x1="614.1" y1="196.7" x2="614.1" y2="235.8" stroke="#8e8e8e" stroke-width="0.9"/>
<line x1="662" y1="202.2" x2="662" y2="221.9" stroke="#8e8e8e" stroke-width="0.9"/>
<line x1="714.5" y1="207" x2="714.5" y2="243.6" stroke="#8e8e8e" stroke-width="0.9"/>
<text x="66.6" y="412.3" font-size="9" text-anchor="middle" >AA</text>
<text x="126.9" y="420.0" font-size="9" text-anchor="middle" >AB</text>
<text x="189.9" y="429.0" font-size="9" text-anchor="middle" >BB</text>
<text x="110.3" y="434.9" font-size="9.6" text-anchor="middle" font-weight="bold" >SNP16</text>
<text x="270.4" y="369.9" font-size="9" text-anchor="middle" >BB</text>
<text x="260.5" y="388.2" font-size="9" text-anchor="middle" >AB</text>
<text x="247.6" y="408.8" font-size="9" text-anchor="middle" >AA</text>
<text transform="translate(276,394) rotate(-61)" font-size="9.2" font-weight="bold" text-anchor="middle" y="3.3">SNP21</text>
<rect x="277.3" y="285.0" width="5.6" height="5.4" fill="#4f81bd"/>
<text x="286.0" y="290.7" font-size="9.2" text-anchor="start" >AA</text>
<rect x="277.3" y="303.5" width="5.6" height="5.4" fill="#c0504d"/>
<text x="286.0" y="309.2" font-size="9.2" text-anchor="start" >AB</text>
<rect x="277.3" y="322.4" width="5.6" height="5.4" fill="#9bbb59"/>
<text x="286.0" y="328.1" font-size="9.2" text-anchor="start" >BB</text>
<g filter="url(#sh)">
<text x="329.8" y="419.3" font-size="9.0" text-anchor="start" font-weight="bold" >SNP24</text>
<text x="329.8" y="440.3" font-size="9.0" text-anchor="start" font-weight="bold" >SNP14</text>
</g>
<text x="388.8" y="419.8" font-size="9" text-anchor="middle" >AA</text>
<text x="434.9" y="426.0" font-size="9" text-anchor="middle" >AB</text>
<text x="482.4" y="431.0" font-size="9" text-anchor="middle" >BB</text>
<text x="532.5" y="437.5" font-size="9" text-anchor="middle" >AA</text>
<text x="584.5" y="444.6" font-size="9" text-anchor="middle" >AB</text>
<text x="639.3" y="450.0" font-size="9" text-anchor="middle" >AA</text>
<text x="434.9" y="445.5" font-size="9" text-anchor="middle" >AA</text>
<text x="558.3" y="460.4" font-size="9" text-anchor="middle" >AB</text>
<text x="639.3" y="470.8" font-size="9" text-anchor="middle" >BB</text>
<text x="706.0" y="398.7" font-size="9" text-anchor="middle" >AA</text>
<text x="697.8" y="414.0" font-size="9" text-anchor="middle" >AB</text>
<text x="687.4" y="430.9" font-size="9" text-anchor="middle" >BB</text>
<text transform="translate(716.5,419.1) rotate(-61)" font-size="9.2" font-weight="bold" text-anchor="middle" y="3.3">SNP21</text>
<rect x="708.8" y="302.3" width="5.2" height="5.2" fill="#4f81bd"/>
<text x="716.9" y="307.9" font-size="9.2" text-anchor="start" >AA</text>
<rect x="708.8" y="321.1" width="5.2" height="5.2" fill="#c0504d"/>
<text x="716.9" y="326.7" font-size="9.2" text-anchor="start" >AB</text>
<rect x="708.8" y="339.8" width="5.2" height="5.2" fill="#9bbb59"/>
<text x="716.9" y="345.4" font-size="9.2" text-anchor="start" >BB</text>
<line x1="368" y1="399.5" x2="368" y2="439" stroke="#8e8e8e" stroke-width="0.9"/>
<line x1="412.2" y1="405.6" x2="412.2" y2="424" stroke="#8e8e8e" stroke-width="0.9"/>
<line x1="459.3" y1="411.4" x2="459.3" y2="430.7" stroke="#8e8e8e" stroke-width="0.9"/>
<line x1="507.6" y1="417.1" x2="507.6" y2="457.2" stroke="#8e8e8e" stroke-width="0.9"/>
<line x1="558.3" y1="423.8" x2="558.3" y2="442.8" stroke="#8e8e8e" stroke-width="0.9"/>
<line x1="611.4" y1="430.2" x2="611.4" y2="469.3" stroke="#8e8e8e" stroke-width="0.9"/>
<line x1="668.2" y1="436.6" x2="668.2" y2="475" stroke="#8e8e8e" stroke-width="0.9"/>
<line x1="1.2" y1="480.1" x2="775.8" y2="480.1" stroke="#4d4d4d" stroke-width="1.7"/>
<text x="13.9" y="499.3" font-size="14" text-anchor="start" font-weight="bold" >A</text><text x="27.7" y="499.1" font-size="12.5" text-anchor="start" font-weight="bold" >:</text><text x="35.0" y="499.0" font-size="12.7" text-anchor="start" >QFCOL b*</text>
<text x="131.6" y="499.3" font-size="14" text-anchor="start" font-weight="bold" >B</text><text x="146.2" y="499.1" font-size="12.5" text-anchor="start" font-weight="bold" >:</text><text x="153.8" y="499.0" font-size="12.7" text-anchor="start" >QFCOL a*</text>
<text x="256.2" y="499.3" font-size="14" text-anchor="start" font-weight="bold" >C</text><text x="270.8" y="499.1" font-size="12.5" text-anchor="start" font-weight="bold" >:</text><text x="277.6" y="499.0" font-size="12.9" text-anchor="start" >TMCOL b*</text>
<text x="372.4" y="499.9" font-size="14" text-anchor="start" font-weight="bold" >D</text><text x="388.9" y="496.5" font-size="12.5" text-anchor="start" font-weight="bold" >:</text><text x="395.8" y="496.6" font-size="12.9" text-anchor="start" >TMpH</text>
</svg>
</body></html>
